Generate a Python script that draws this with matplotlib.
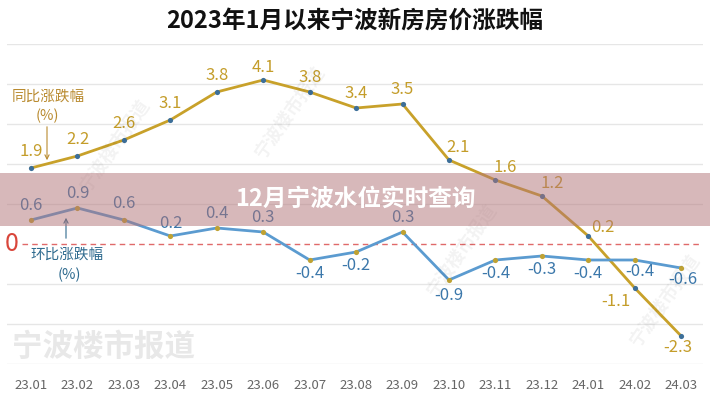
import matplotlib
matplotlib.use("Agg")
import matplotlib.pyplot as plt
from matplotlib.patches import Rectangle

plt.rcParams['font.family'] = ['Noto Sans CJK SC', 'DejaVu Sans']

# ---------------- data ----------------
months = ["23.01", "23.02", "23.03", "23.04", "23.05", "23.06", "23.07", "23.08",
          "23.09", "23.10", "23.11", "23.12", "24.01", "24.02", "24.03"]
yoy = [1.9, 2.2, 2.6, 3.1, 3.8, 4.1, 3.8, 3.4, 3.5, 2.1, 1.6, 1.2, 0.2, -1.1, -2.3]
mom = [0.6, 0.9, 0.6, 0.2, 0.4, 0.3, -0.4, -0.2, 0.3, -0.9, -0.4, -0.3, -0.4, -0.4, -0.6]
title = "2023年1月以来宁波新房房价涨跌幅"
yoy_name = "同比涨跌幅"
mom_name = "环比涨跌幅"
banner = "12月宁波水位实时查询"
watermark = "宁波楼市报道"

# ---------------- styles ----------------
W, H = 710, 400
GOLD = "#c8a12a"
GOLD_TXT = "#c49d2a"
GOLD_ANN = "#b98b30"
BLUE = "#5b9bd0"
BLUE_TXT = "#3c78ab"
BLUE_ANN = "#2f6b8f"
MK_ON_GOLD = "#3d6f99"
MK_ON_BLUE = "#bfa233"
GRID = "#e6e6e6"

# label offsets in pixels (dx, dy up-positive)
yoy_off = [(0, 16), (0, 16), (0, 16), (0, 16), (0, 16), (0, 12), (0, 14), (0, 15),
           (0, 15), (9, 12), (10, 12), (10, 13), (15, 9), (-19, -14), (-3, -11)]
mom_off = [(0, 14), (0, 14), (0, 16), (0, 13), (0, 15), (0, 15), (0, -14), (0, -14),
           (0, 15), (0, -15), (0, -14), (0, -13), (0, -14), (5, -12), (2, -12)]


def fx(px):
    return px / W


def fy(py):
    return 1 - py / H


fig = plt.figure(figsize=(W / 100, H / 100), dpi=100)
fig.patch.set_facecolor("white")

ax = fig.add_axes([fx(7), fy(364), (703 - 7) / W, (364 - 44) / H])
ax.set_facecolor("none")
for s in ax.spines.values():
    s.set_visible(False)
ax.set_ylim(-3, 5)
ax.set_xlim(-0.517, 14.47)
ax.set_yticks([])

x = list(range(len(months)))
ax.set_xticks(x)
ax.set_xticklabels(months, fontsize=9.5, color="#666666")
ax.tick_params(axis="x", length=0, pad=11)

for g in [-3, -2, -1, 1, 2, 3, 4, 5]:
    ax.axhline(g, color=GRID, lw=1, zorder=0)
ax.hlines(0, -0.19, 14.47, colors="#e06a6a", linestyles=(0, (4, 3)), lw=1, zorder=1)
ax.text(-0.41, 0, "0", color="#d9463b", fontsize=18, ha="center", va="center")

# lines
ax.plot(x, yoy, color=GOLD, lw=2, zorder=3)
ax.scatter(x, yoy, s=14, color=MK_ON_GOLD, zorder=4, linewidths=0)
ax.plot(x, mom, color=BLUE, lw=2, zorder=3)
ax.scatter(x, mom, s=14, color=MK_ON_BLUE, zorder=4, linewidths=0)

for xi, v, (dx, dy) in zip(x, yoy, yoy_off):
    ax.annotate(f"{v:g}", (xi, v), xytext=(dx, dy), textcoords="offset pixels",
                ha="center", va="center", fontsize=12, color=GOLD_TXT, zorder=5)
for xi, v, (dx, dy) in zip(x, mom, mom_off):
    ax.annotate(f"{v:g}", (xi, v), xytext=(dx, dy), textcoords="offset pixels",
                ha="center", va="center", fontsize=12, color=BLUE_TXT, zorder=5)

# series annotations
fig.text(fx(48), fy(97), yoy_name, fontsize=10.5, color=GOLD_ANN, ha="center", va="center")
fig.text(fx(47), fy(116), "(%)", fontsize=10.5, color=GOLD_ANN, ha="center", va="center")
fig.patches.append(matplotlib.patches.FancyArrowPatch(
    (fx(47), fy(124)), (fx(47), fy(163)), transform=fig.transFigure,
    arrowstyle="->,head_length=3,head_width=1.5", color=GOLD_ANN, lw=0.8))
fig.text(fx(67), fy(255), mom_name, fontsize=10.5, color=BLUE_ANN, ha="center", va="center")
fig.text(fx(69), fy(275), "(%)", fontsize=10.5, color=BLUE_ANN, ha="center", va="center")
fig.patches.append(matplotlib.patches.FancyArrowPatch(
    (fx(66), fy(241)), (fx(66), fy(215)), transform=fig.transFigure,
    arrowstyle="->,head_length=3,head_width=1.5", color=BLUE_ANN, lw=0.8))

# title
fig.text(0.5, fy(21), title, fontsize=17, fontweight="bold", color="#111111",
         ha="center", va="center")

# watermarks
fig.text(fx(12), fy(347), watermark, fontsize=22, fontweight="bold", color="#e8e8e8",
         ha="left", va="center")
for (px, py) in [(115, 145), (290, 112), (462, 250), (665, 300)]:
    fig.text(fx(px), fy(py), watermark, fontsize=13, color="#000000", alpha=0.05,
             rotation=55, ha="center", va="center", fontweight="bold")

# banner overlay
band = Rectangle((0, fy(226)), 1, 53 / H, transform=fig.transFigure,
                 facecolor=(177 / 255, 115 / 255, 119 / 255), alpha=0.5,
                 edgecolor="none", zorder=10)
fig.patches.append(band)
fig.text(0.5, fy(199), banner, fontsize=17, fontweight="bold", color="white",
         ha="center", va="center", zorder=11)

fig.savefig("out.png", dpi=100)
